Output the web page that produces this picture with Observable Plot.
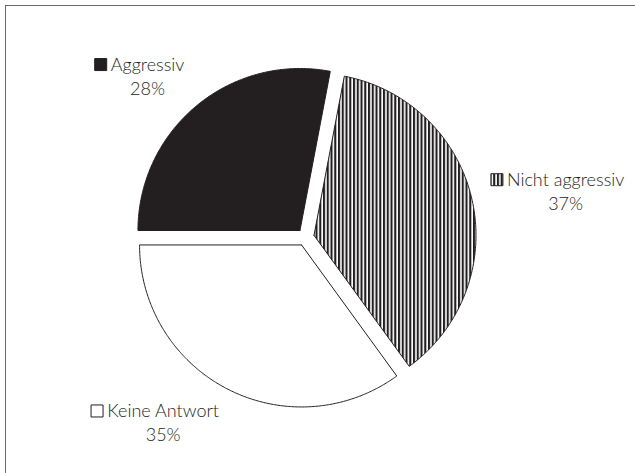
<!DOCTYPE html>
<html><head><meta charset="utf-8">
<script src="https://cdn.jsdelivr.net/npm/d3@7"></script>
<script src="https://cdn.jsdelivr.net/npm/@observablehq/plot@0.6"></script>
<style>
html,body{margin:0;padding:0;background:#fff;}
#wrap{position:relative;width:635px;height:473px;overflow:hidden;}
#frame{position:absolute;left:5px;top:5px;width:700px;height:600px;border-left:1.5px solid #6b6b6b;border-top:1.5px solid #6b6b6b;pointer-events:none;}
</style></head><body>
<div id="wrap"></div>
<script>
// ---- data ----
const categories = ["Aggressiv", "Nicht aggressiv", "Keine Antwort"];
const shares = [28, 37, 35];
const percentLabels = ["28%", "37%", "35%"];

// ---- styling / layout ----
const palette = ["#231f20", "url(#hatch)", "#ffffff"];
const INK = "#231f20";
const W = 635, H = 473;
const K = 162;            // px per unit radius
const CX = 305, CY = 236.7;
const explode = 8.7 / K;
const labelR = 190 / K;
const FONT = "Lato";
const FW = 300;
const FS = 18;
const SQ = 12, GAP = 4, LINE = 24.5, HH = 18.5;

const pie = d3.pie().sort(null).value(d => d).startAngle(-Math.PI / 2).endAngle(3 * Math.PI / 2);
const arcs = pie(shares);

const pts = [];
const labels = [];
const squares = [];
const ctx = document.createElement("canvas").getContext("2d");
ctx.font = `${FW} ${FS}px ${FONT}`;

arcs.forEach((a, i) => {
  const key = categories[i], fill = palette[i];
  const mid = (a.startAngle + a.endAngle) / 2;
  const ux = Math.sin(mid), uy = Math.cos(mid);
  const ox = explode * ux, oy = explode * uy;
  pts.push({key, fill, x: ox, y: oy});
  const n = Math.ceil((a.endAngle - a.startAngle) / (Math.PI / 360));
  for (let j = 0; j <= n; j++) {
    const t = a.startAngle + (a.endAngle - a.startAngle) * j / n;
    pts.push({key, fill, x: ox + Math.sin(t), y: oy + Math.cos(t)});
  }
  pts.push({key, fill, x: ox, y: oy});

  // label layout: box sits just outside the anchor point on the mid-angle ray
  const ax = labelR * ux, ay = labelR * uy;
  const w = ctx.measureText(key).width / K;
  let tcx, scx;
  if (ux < 0) { tcx = ax - w / 2; scx = ax - w - GAP / K - SQ / K / 2; }
  else { scx = ax + SQ / K / 2; tcx = ax + SQ / K + GAP / K + w / 2; }
  const by = ay + uy * HH / K;
  const base1 = by + 6 / K;
  const base2 = base1 - LINE / K;
  const off = 0.32 * FS / K; // baseline -> middle anchor
  labels.push({text: key, x: tcx, y: base1 + off});
  labels.push({text: percentLabels[i], x: tcx, y: base2 + off});
  squares.push({fill, x: scx, y: base1 + SQ / 2 / K});
});

const chart = Plot.plot({
  width: W, height: H, margin: 0,
  x: {domain: [-CX / K, (W - CX) / K], axis: null},
  y: {domain: [-(H - CY) / K, CY / K], axis: null},
  color: {type: "identity"},
  style: {fontFamily: FONT, fontSize: FS + "px", fontWeight: FW, background: "transparent", color: INK},
  marks: [
    Plot.line(pts, {x: "x", y: "y", z: "key", fill: "fill", stroke: INK, strokeWidth: 1, curve: "linear", strokeLinejoin: "miter"}),
    Plot.dot(squares, {x: "x", y: "y", symbol: "square", r: SQ / Math.sqrt(Math.PI), fill: "fill", stroke: INK, strokeWidth: 1}),
    Plot.text(labels, {x: "x", y: "y", text: "text", textAnchor: "middle", fill: INK, fontSize: FS, fontWeight: FW})
  ]
});

chart.insertAdjacentHTML("afterbegin",
  `<defs><pattern id="hatch" patternUnits="userSpaceOnUse" width="3.75" height="8">
     <rect width="3.75" height="8" fill="#ffffff"/><rect width="2.1" height="8" fill="${INK}"/>
   </pattern></defs>`);

const wrap = document.getElementById("wrap");
wrap.appendChild(chart);
const frame = document.createElement("div");
frame.id = "frame";
wrap.appendChild(frame);
</script>
</body></html>
